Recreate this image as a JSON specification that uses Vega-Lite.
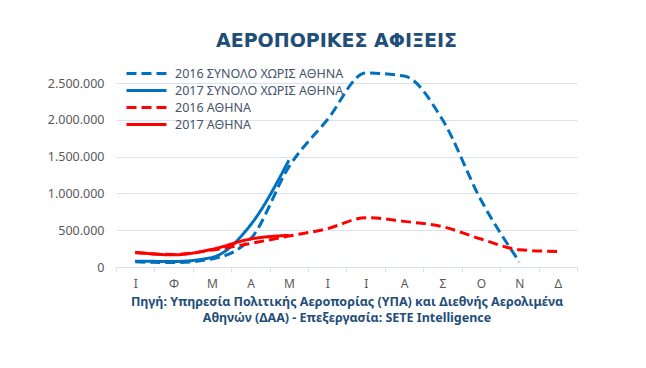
{
  "$schema": "https://vega.github.io/schema/vega-lite/v6.json",
  "autosize": {"type": "none"},
  "width": 461,
  "height": 184,
  "padding": {"left": 116, "top": 83, "right": 69, "bottom": 101},
  "background": "white",
  "config": {
    "locale": {"number": {"decimal": ",", "thousands": ".", "grouping": [3], "currency": ["", "€"]}},
    "view": {"stroke": null},
    "font": "Noto Sans"
  },
  "title": {
    "text": "ΑΕΡΟΠΟΡΙΚΕΣ ΑΦΙΞΕΙΣ",
    "font": "DejaVu Sans",
    "fontSize": 19,
    "fontWeight": "bold",
    "color": "#1F4E79",
    "anchor": "middle",
    "dx": -10,
    "offset": 16
  },
  "data": {
    "values": [
      {"m": 1, "series": "2016 ΣΥΝΟΛΟ ΧΩΡΙΣ ΑΘΗΝΑ", "value": 70000},
      {"m": 2, "series": "2016 ΣΥΝΟΛΟ ΧΩΡΙΣ ΑΘΗΝΑ", "value": 60000},
      {"m": 3, "series": "2016 ΣΥΝΟΛΟ ΧΩΡΙΣ ΑΘΗΝΑ", "value": 110000},
      {"m": 4, "series": "2016 ΣΥΝΟΛΟ ΧΩΡΙΣ ΑΘΗΝΑ", "value": 380000},
      {"m": 5, "series": "2016 ΣΥΝΟΛΟ ΧΩΡΙΣ ΑΘΗΝΑ", "value": 1360000},
      {"m": 6, "series": "2016 ΣΥΝΟΛΟ ΧΩΡΙΣ ΑΘΗΝΑ", "value": 2000000},
      {"m": 7, "series": "2016 ΣΥΝΟΛΟ ΧΩΡΙΣ ΑΘΗΝΑ", "value": 2635000},
      {"m": 8, "series": "2016 ΣΥΝΟΛΟ ΧΩΡΙΣ ΑΘΗΝΑ", "value": 2595000},
      {"m": 9, "series": "2016 ΣΥΝΟΛΟ ΧΩΡΙΣ ΑΘΗΝΑ", "value": 2000000},
      {"m": 10, "series": "2016 ΣΥΝΟΛΟ ΧΩΡΙΣ ΑΘΗΝΑ", "value": 910000},
      {"m": 11, "series": "2016 ΣΥΝΟΛΟ ΧΩΡΙΣ ΑΘΗΝΑ", "value": 70000},
      {"m": 1, "series": "2017 ΣΥΝΟΛΟ ΧΩΡΙΣ ΑΘΗΝΑ", "value": 80000},
      {"m": 2, "series": "2017 ΣΥΝΟΛΟ ΧΩΡΙΣ ΑΘΗΝΑ", "value": 75000},
      {"m": 3, "series": "2017 ΣΥΝΟΛΟ ΧΩΡΙΣ ΑΘΗΝΑ", "value": 130000},
      {"m": 4, "series": "2017 ΣΥΝΟΛΟ ΧΩΡΙΣ ΑΘΗΝΑ", "value": 570000},
      {"m": 5, "series": "2017 ΣΥΝΟΛΟ ΧΩΡΙΣ ΑΘΗΝΑ", "value": 1450000},
      {"m": 1, "series": "2016 ΑΘΗΝΑ", "value": 195000},
      {"m": 2, "series": "2016 ΑΘΗΝΑ", "value": 170000},
      {"m": 3, "series": "2016 ΑΘΗΝΑ", "value": 230000},
      {"m": 4, "series": "2016 ΑΘΗΝΑ", "value": 320000},
      {"m": 5, "series": "2016 ΑΘΗΝΑ", "value": 420000},
      {"m": 6, "series": "2016 ΑΘΗΝΑ", "value": 520000},
      {"m": 7, "series": "2016 ΑΘΗΝΑ", "value": 670000},
      {"m": 8, "series": "2016 ΑΘΗΝΑ", "value": 620000},
      {"m": 9, "series": "2016 ΑΘΗΝΑ", "value": 548000},
      {"m": 10, "series": "2016 ΑΘΗΝΑ", "value": 380000},
      {"m": 11, "series": "2016 ΑΘΗΝΑ", "value": 235000},
      {"m": 12, "series": "2016 ΑΘΗΝΑ", "value": 210000},
      {"m": 1, "series": "2017 ΑΘΗΝΑ", "value": 200000},
      {"m": 2, "series": "2017 ΑΘΗΝΑ", "value": 165000},
      {"m": 3, "series": "2017 ΑΘΗΝΑ", "value": 240000},
      {"m": 4, "series": "2017 ΑΘΗΝΑ", "value": 380000},
      {"m": 5, "series": "2017 ΑΘΗΝΑ", "value": 430000}
    ]
  },
  "mark": {"type": "line", "strokeWidth": 3, "interpolate": "monotone", "clip": false},
  "encoding": {
    "x": {
      "field": "m",
      "type": "ordinal",
      "bandPosition": 0.5,
      "scale": {"type": "band", "domain": [1,2,3,4,5,6,7,8,9,10,11,12], "paddingInner": 0, "paddingOuter": 0},
      "axis": {
        "labelAngle": 0,
        "labelExpr": "['Ι','Φ','Μ','Α','Μ','Ι','Ι','Α','Σ','Ο','Ν','Δ'][datum.value-1]",
        "labelFontSize": 12,
        "labelColor": "#595959",
        "labelPadding": 6,
        "tickBand": "extent",
        "tickColor": "#D9E1F2",
        "tickSize": 5,
        "domainColor": "#D9E1F2",
        "grid": false,
        "title": ["Πηγή: Υπηρεσία Πολιτικής Αεροπορίας (ΥΠΑ)  και Διεθνής  Αερολιμένα", "Αθηνών (ΔΑΑ) - Επεξεργασία: SETE Intelligence"],
        "titleFontSize": 12.5,
        "titleFontWeight": "bold",
        "titleColor": "#1F4E79",
        "titlePadding": 6,
        "titleLineHeight": 16,
        "titleLimit": 600
      }
    },
    "y": {
      "field": "value",
      "type": "quantitative",
      "scale": {"domain": [0, 2500000], "nice": false},
      "axis": {
        "values": [0, 500000, 1000000, 1500000, 2000000, 2500000],
        "format": ",d",
        "title": null,
        "domain": false,
        "ticks": false,
        "labelPadding": 12,
        "labelFontSize": 12.5,
        "labelColor": "#595959",
        "gridColor": "#D9E1F2",
        "gridWidth": 1
      }
    },
    "color": {
      "field": "series",
      "type": "nominal",
      "scale": {
        "domain": ["2016 ΣΥΝΟΛΟ ΧΩΡΙΣ ΑΘΗΝΑ", "2017 ΣΥΝΟΛΟ ΧΩΡΙΣ ΑΘΗΝΑ", "2016 ΑΘΗΝΑ", "2017 ΑΘΗΝΑ"],
        "range": ["#0070C0", "#0070C0", "#FF0000", "#FF0000"]
      },
      "legend": {
        "orient": "none",
        "legendX": 24,
        "legendY": -16,
        "title": null,
        "symbolType": "M-4,0H4",
        "symbolSize": 100,
        "symbolStrokeWidth": 3,
        "labelFontSize": 12.5,
        "labelColor": "#44546A",
        "labelLimit": 400,
        "rowPadding": 4,
        "labelOffset": 22
      }
    },
    "strokeDash": {
      "field": "series",
      "type": "nominal",
      "scale": {
        "domain": ["2016 ΣΥΝΟΛΟ ΧΩΡΙΣ ΑΘΗΝΑ", "2017 ΣΥΝΟΛΟ ΧΩΡΙΣ ΑΘΗΝΑ", "2016 ΑΘΗΝΑ", "2017 ΑΘΗΝΑ"],
        "range": [[10, 5], [1, 0], [10, 5], [1, 0]]
      }
    }
  }
}
